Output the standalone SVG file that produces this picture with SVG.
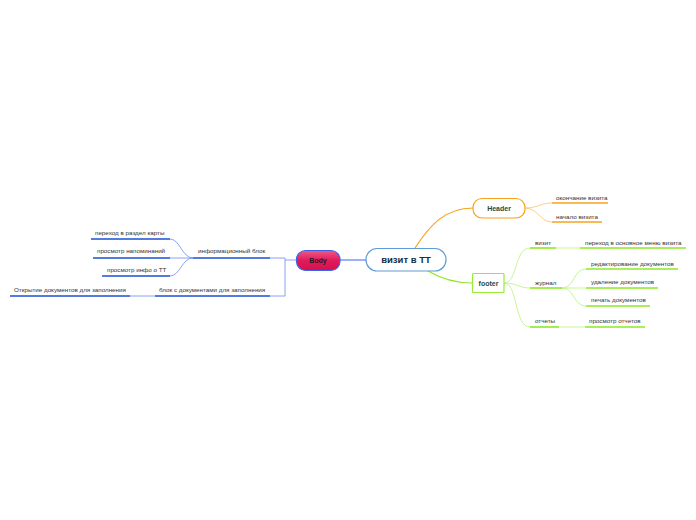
<svg xmlns="http://www.w3.org/2000/svg" width="696" height="520" viewBox="0 0 696 520">
<defs>
<linearGradient id="bodyGrad" x1="0" y1="0" x2="0" y2="1">
<stop offset="0" stop-color="#ef5a86"/>
<stop offset="0.5" stop-color="#e2195a"/>
<stop offset="1" stop-color="#d3124f"/>
</linearGradient>
</defs>
<style>
text{font-family:"Liberation Sans",Arial,sans-serif;font-size:6.25px;fill:#333}
.b{font-weight:bold;fill:#123047}
.ul-b{stroke:#1c4fd6;stroke-width:1.6;fill:none}
.ul-o{stroke:#f7a21b;stroke-width:1.6;fill:none}
.ul-g{stroke:#8fe826;stroke-width:1.6;fill:none}
.c-b{stroke:#6b8ef0;stroke-width:0.8;fill:none}
.c-o{stroke:#fbc46a;stroke-width:0.8;fill:none}
.c-g{stroke:#b9f27a;stroke-width:0.8;fill:none}
</style>
<rect width="696" height="520" fill="#ffffff"/>
<g id="connectors">
<path d="M415 248 C430 225 445 208 473 208" stroke="#f7a21b" stroke-width="1.2" fill="none"/>
<path d="M428 271 C440 278 455 283 472 283" stroke="#8fe826" stroke-width="1.2" fill="none"/>
<path d="M366 260 L340 260" stroke="#3a63e8" stroke-width="1" fill="none"/>
<path d="M296 260 L285 260 M285 258 L285 296" class="c-b"/>
<path d="M285 258 L270 258 M285 296 L270 296" class="c-b"/>
<path d="M193 258 C182 258 180 239 170 239" class="c-b"/>
<path d="M193 258 L170 258" class="c-b"/>
<path d="M193 258 C182 258 180 276 170 276" class="c-b"/>
<path d="M155 296 L130 296" class="c-b"/>
<path d="M525 208 C538 208 540 203 552 203" class="c-o"/>
<path d="M525 208 C538 208 540 222 552 222" class="c-o"/>
<path d="M504 283 C518 283 514 248 530 248" class="c-g"/>
<path d="M504 283 C518 283 518 288 530 288" class="c-g"/>
<path d="M504 283 C518 283 514 327 530 327" class="c-g"/>
<path d="M556 248 L580 248" class="c-g"/>
<path d="M562 288 C575 288 573 269 586 269" class="c-g"/>
<path d="M562 288 L586 288" class="c-g"/>
<path d="M562 288 C575 288 573 306 586 306" class="c-g"/>
<path d="M559 327 L585 327" class="c-g"/>
</g>
<g id="root">
<rect x="366" y="248.5" width="80" height="22.5" rx="11" fill="#ffffff" stroke="#5d9bd8" stroke-width="1.2"/>
<text x="406" y="263" text-anchor="middle" class="b" style="font-size:9.5px">визит в ТТ</text>
</g>
<g id="body">
<rect x="296.5" y="250.5" width="43.5" height="20" rx="9" fill="url(#bodyGrad)" stroke="#3f62ea" stroke-width="1.2"/>
<text x="318" y="263" text-anchor="middle" class="b" style="font-size:7px;fill:#2a1a24">Body</text>
</g>
<g id="header">
<rect x="473" y="198.5" width="52" height="19.5" rx="9" fill="#ffffff" stroke="#f7a21b" stroke-width="1.2"/>
<text x="499" y="211" text-anchor="middle" class="b" style="font-size:7px;fill:#1e4a48">Header</text>
</g>
<g id="footer">
<rect x="472.5" y="273.5" width="31.5" height="19" rx="1" fill="#ffffff" stroke="#98ea37" stroke-width="1.2"/>
<text x="488.5" y="286" text-anchor="middle" class="b" style="font-size:7px;fill:#1e4a48">footer</text>
</g>
<g id="h1"><text x="556" y="200">окончание визита</text><path d="M552 203 L608 203" class="ul-o"/></g>
<g id="h2"><text x="556" y="219">начало визита</text><path d="M552 222 L602 222" class="ul-o"/></g>
<g id="f1"><text x="535" y="245">визит</text><path d="M530 248 L556 248" class="ul-g"/></g>
<g id="f1a"><text x="585" y="245">переход в основное меню визита</text><path d="M580 248 L686 248" class="ul-g"/></g>
<g id="f2"><text x="535" y="285">журнал</text><path d="M530 288 L562 288" class="ul-g"/></g>
<g id="f2a"><text x="591" y="266">редактирование документов</text><path d="M586 269 L678 269" class="ul-g"/></g>
<g id="f2b"><text x="591" y="284">удаление документов</text><path d="M586 288 L658 288" class="ul-g"/></g>
<g id="f2c"><text x="591" y="302">печать документов</text><path d="M586 306 L650 306" class="ul-g"/></g>
<g id="f3"><text x="535" y="323">отчеты</text><path d="M530 327 L559 327" class="ul-g"/></g>
<g id="f3a"><text x="589" y="323">просмотр отчетов</text><path d="M585 327 L645 327" class="ul-g"/></g>
<g id="b1"><text x="198" y="253">информационный блок</text><path d="M193 258 L270 258" class="ul-b"/></g>
<g id="b1a"><text x="95" y="235">переход в раздел карты</text><path d="M91 239 L170 239" class="ul-b"/></g>
<g id="b1b"><text x="97" y="253">просмотр напоминаний</text><path d="M93 258 L170 258" class="ul-b"/></g>
<g id="b1c"><text x="107" y="272">просмотр инфо о ТТ</text><path d="M102 276 L170 276" class="ul-b"/></g>
<g id="b2"><text x="159" y="292">блок с документами для заполнения</text><path d="M155 296 L270 296" class="ul-b"/></g>
<g id="b2a"><text x="14" y="292">Открытие документов для заполнения</text><path d="M10 296 L130 296" class="ul-b"/></g>
</svg>
